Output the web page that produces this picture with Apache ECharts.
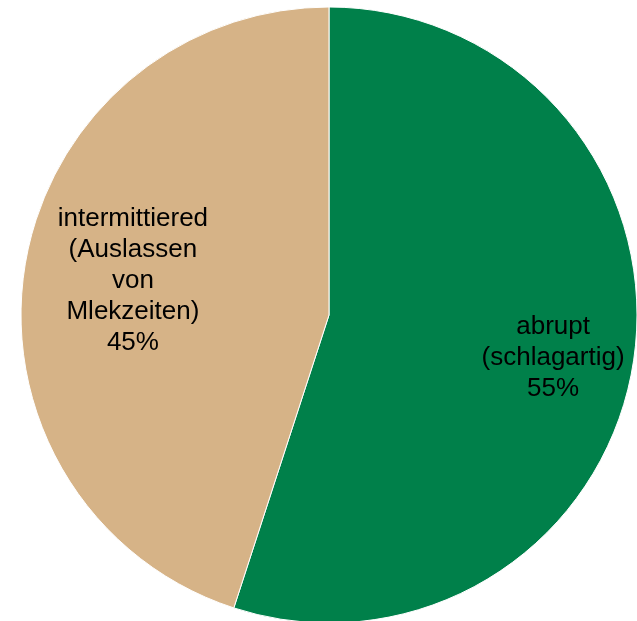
<!DOCTYPE html>
<html>
<head>
<meta charset="utf-8">
<script src="https://cdn.jsdelivr.net/npm/echarts@6/dist/echarts.min.js"></script>
<style>
  html, body { margin: 0; padding: 0; background: #fff; }
  #chart { width: 637px; height: 621px; }
</style>
</head>
<body>
<div id="chart"></div>
<script>
const categories = ['abrupt\n(schlagartig)', 'intermittiered\n(Auslassen\nvon\nMlekzeiten)'];
const values = [55, 45];
const colors = ['#00804A', '#D6B387'];
const labelOffsets = [[69, 18], [-41, -10]];

const chart = echarts.init(document.getElementById('chart'));

chart.setOption({
  animation: false,
  backgroundColor: '#fff',
  series: [
    {
      type: 'pie',
      center: [329, 315],
      radius: [0, 308],
      startAngle: 90,
      clockwise: true,
      avoidLabelOverlap: false,
      itemStyle: { borderColor: '#fff', borderWidth: 1 },
      label: {
        show: true,
        position: 'inside',
        color: '#000',
        fontFamily: 'Liberation Sans, Arial, sans-serif',
        fontSize: 26,
        lineHeight: 31,
        align: 'center',
        formatter: p => p.name + '\n' + p.value + '%'
      },
      labelLine: { show: false },
      emphasis: { disabled: true },
      data: categories.map((name, i) => ({
        name: name,
        value: values[i],
        itemStyle: { color: colors[i] },
        label: { offset: labelOffsets[i] }
      }))
    }
  ]
});
</script>
</body>
</html>
